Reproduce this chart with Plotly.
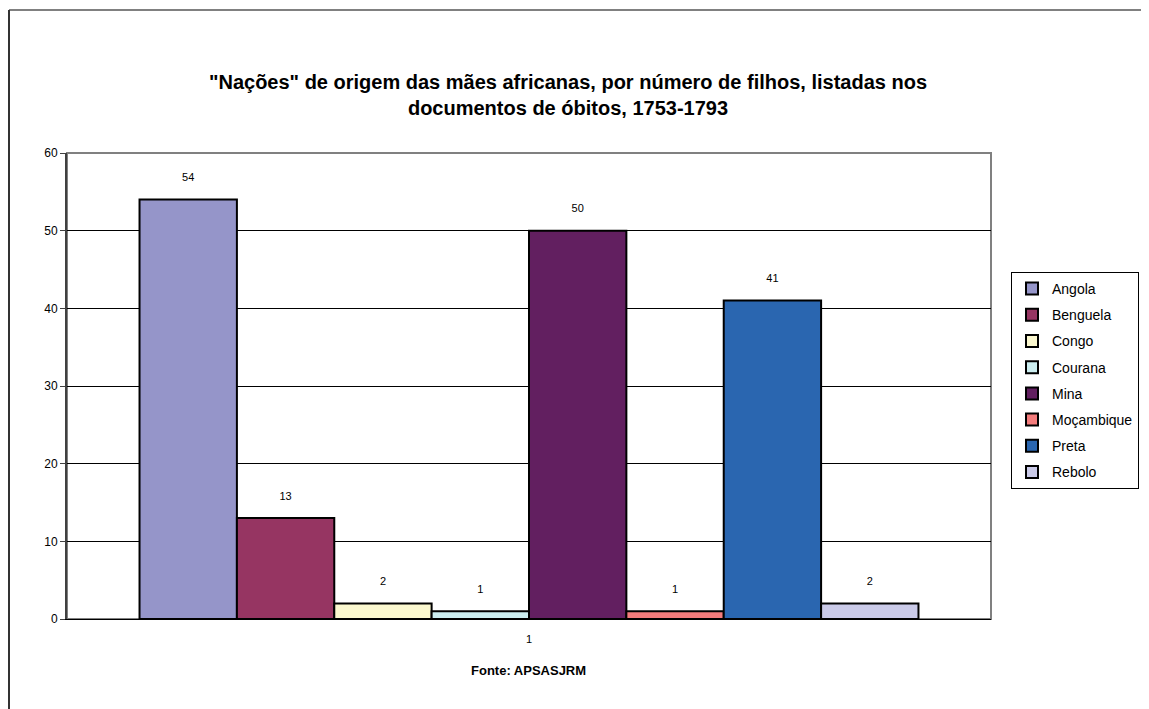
import plotly.graph_objects as go

categories = ["1"]
series_names = ["Angola", "Benguela", "Congo", "Courana", "Mina", "Moçambique", "Preta", "Rebolo"]
series_values = [54, 13, 2, 1, 50, 1, 41, 2]
series_colors = ["#9595C9", "#963562", "#FBF8CF", "#CCEEF0", "#621F60", "#F47C7C", "#2A66B0", "#CACAE8"]
y_ticks = [0, 10, 20, 30, 40, 50, 60]

# page has an 8px body margin; figure coordinates = page coordinates - OFF
OFF = 8
W, H = 1149 - OFF, 709 - OFF
PL, PR, PT, PB = 67, 991, 153, 619  # plot area in page pixels
L, T = PL - OFF, PT - OFF
R, B = 1149 - PR, 709 - PB
pw, ph = PR - PL, PB - PT

fig = go.Figure()
for name, val, col in zip(series_names, series_values, series_colors):
    fig.add_trace(go.Bar(
        x=categories, y=[val], name=name,
        marker=dict(color=col, line=dict(color="black", width=2)),
        text=[val], texttemplate="%{y}<br><span style='font-size:3px'> </span>",
        textposition="outside", cliponaxis=False,
        textfont=dict(family="Arial", size=11, color="black"),
        legendgroup=name,
    ))

def px_x(x):
    return (x - PL) / pw

def px_y(y):
    return (PB - y) / ph

fig.update_layout(
    width=W, height=H,
    margin=dict(l=L, r=R, t=T, b=B, autoexpand=False),
    paper_bgcolor="white", plot_bgcolor="white",
    barmode="group", bargap=0.157, bargroupgap=0,
    font=dict(family="Arial", size=11, color="black"),
    title=dict(
        text='"Nações" de origem das mães africanas, por número de filhos, listadas nos<br>documentos de óbitos, 1753-1793',
        x=(568 - OFF) / W, xanchor="center", xref="container",
        y=1 - (89 - OFF) / H, yanchor="middle", yref="container",
        font=dict(family="Arial", size=20, color="black", weight="bold"),
    ),
    xaxis=dict(
        type="category", showgrid=False, ticks="", showline=True,
        linecolor="black", linewidth=1,
        tickfont=dict(family="Arial", size=11, color="black"),
        ticklabelstandoff=10,
    ),
    yaxis=dict(
        range=[0, 60], tickvals=y_ticks, showgrid=True, gridcolor="black",
        gridwidth=1, zeroline=False, showline=True, linecolor="#404040",
        linewidth=2, ticks="outside", ticklen=5, tickcolor="#404040",
        tickfont=dict(family="Arial", size=12, color="black"),
    ),
    legend=dict(
        x=px_x(1011), xanchor="left", y=px_y(272), yanchor="top",
        bordercolor="black", borderwidth=1, bgcolor="white",
        font=dict(family="Arial", size=14, color="black"),
        tracegroupgap=5, traceorder="grouped", itemwidth=30,
    ),
    showlegend=True,
)

fig.add_annotation(
    text="<b>Fonte: APSASJRM</b>", xref="paper", yref="paper",
    x=px_x(528), y=px_y(670), xanchor="center", yanchor="middle",
    showarrow=False, font=dict(family="Arial", size=13, color="black"),
)

# plot area border (gray top/right)
fig.add_shape(type="rect", xref="paper", yref="paper", x0=0, y0=0, x1=1, y1=1,
              line=dict(color="#808080", width=2), layer="below")
# outer chart border (top and left visible)
fig.add_shape(type="line", xref="paper", yref="paper",
              x0=px_x(9), y0=px_y(10), x1=px_x(1200), y1=px_y(10),
              line=dict(color="#808080", width=2))
fig.add_shape(type="line", xref="paper", yref="paper",
              x0=px_x(9), y0=px_y(10), x1=px_x(9), y1=px_y(760),
              line=dict(color="#333333", width=2))

fig.write_html("out.html")
